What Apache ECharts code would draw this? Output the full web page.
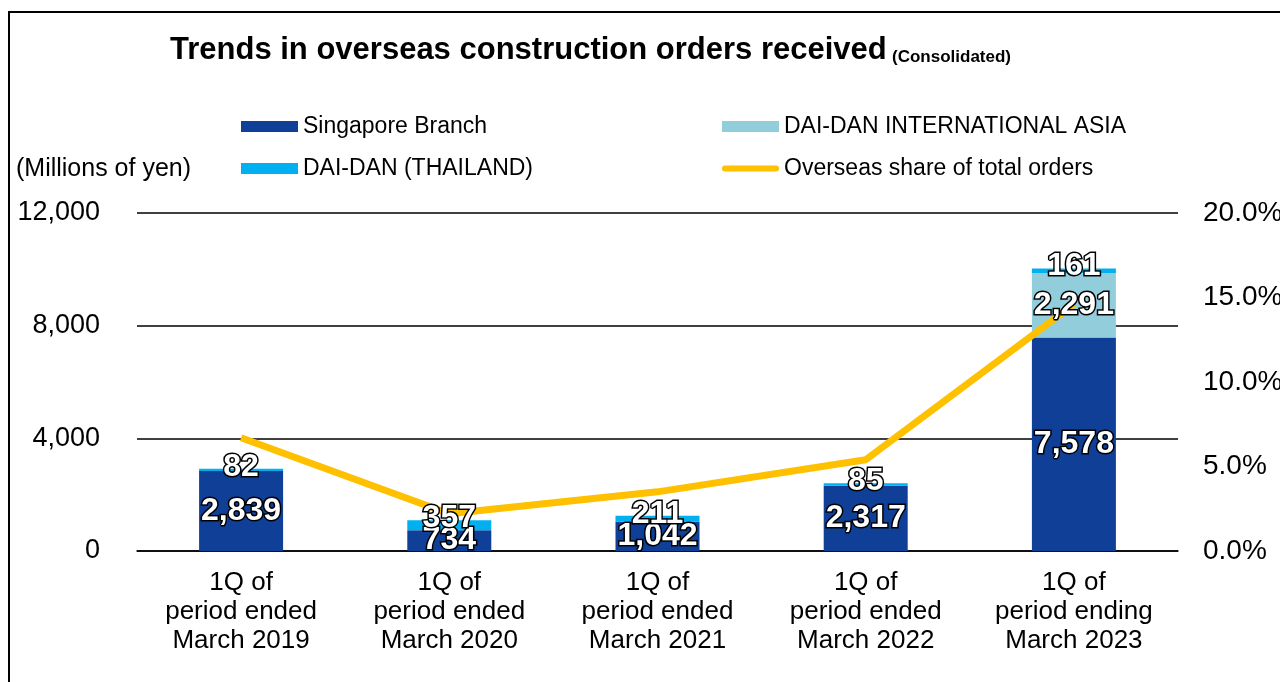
<!DOCTYPE html>
<html>
<head>
<meta charset="utf-8">
<title>Trends in overseas construction orders received</title>
<script src="https://cdn.jsdelivr.net/npm/echarts@6/dist/echarts.min.js"></script>
<style>
  html, body { margin: 0; padding: 0; background: #fff; }
  #main { width: 1280px; height: 682px; }
</style>
</head>
<body>
<div id="main"></div>
<script>
// data
var categories = [
  "1Q of\nperiod ended\nMarch 2019",
  "1Q of\nperiod ended\nMarch 2020",
  "1Q of\nperiod ended\nMarch 2021",
  "1Q of\nperiod ended\nMarch 2022",
  "1Q of\nperiod ending\nMarch 2023"
];
var singapore = [2839, 734, 1042, 2317, 7578];
var intlAsia = [0, 0, 0, 0, 2291];
var thailand = [82, 357, 211, 85, 161];
var overseasShare = [6.7, 2.2, 3.5, 5.4, 14.6]; // %

var FONT = "'Liberation Sans', Arial, sans-serif";
var colors = ["#0F3F97", "#92CDDC", "#00B0F0", "#FFC000"];

var myChart = echarts.init(document.getElementById("main"));

var barLabel = {
  show: true,
  position: "inside",
  color: "#fff",
  fontFamily: FONT,
  fontWeight: "bold",
  fontSize: 32,
  textBorderColor: "#000",
  textBorderWidth: 3,
  formatter: function (p) {
    return p.value ? p.value.toLocaleString("en-US") : "";
  }
};

// coloured bars, no labels
function barSeries(name, data, color) {
  return {
    name: name, type: "bar", stack: "orders", barWidth: 84, barGap: "-100%",
    z: 2, itemStyle: { color: color }, data: data
  };
}
// same stack again, invisible, only to draw the labels above the line
function labelSeries(name, data, label) {
  return {
    name: name, type: "bar", stack: "labels", barWidth: 84, barGap: "-100%",
    z: 4, silent: true, itemStyle: { color: "rgba(0,0,0,0)" }, data: data, label: label
  };
}

var lineIcon = "path://M3,0 L54,0 A3,3 0 0 1 54,6 L3,6 A3,3 0 0 1 3,0 Z";

var option = {
  animation: false,
  color: colors,
  textStyle: { fontFamily: FONT, color: "#000" },
  title: [
    {
      text: "Trends in overseas construction orders received",
      left: 165, top: 30,
      textStyle: { fontFamily: FONT, fontSize: 31, fontWeight: "bold", color: "#000" }
    },
    {
      text: "(Consolidated)",
      left: 887, top: 44,
      textStyle: { fontFamily: FONT, fontSize: 17, fontWeight: "bold", color: "#000" }
    },
    {
      text: "(Millions of yen)",
      left: 11, top: 152,
      textStyle: { fontFamily: FONT, fontSize: 25, fontWeight: "normal", color: "#000" }
    }
  ],
  legend: [
    {
      orient: "vertical",
      left: 241, top: 115, padding: 0,
      itemWidth: 57, itemHeight: 11, itemGap: 19,
      textStyle: { fontFamily: FONT, fontSize: 23, color: "#000" },
      data: [
        { name: "Singapore Branch", icon: "rect" },
        { name: "DAI-DAN (THAILAND)", icon: "rect" }
      ]
    },
    {
      orient: "vertical",
      left: 722, top: 115, padding: 0,
      itemWidth: 57, itemHeight: 11, itemGap: 19,
      textStyle: { fontFamily: FONT, fontSize: 23, color: "#000" },
      data: [
        { name: "DAI-DAN INTERNATIONAL ASIA", icon: "rect" },
        { name: "Overseas share of total orders", icon: lineIcon }
      ]
    }
  ],
  graphic: [
    {
      type: "rect",
      shape: { x: 9, y: 12, width: 1320, height: 720 },
      style: { fill: "none", stroke: "#000", lineWidth: 2 },
      silent: true
    }
  ],
  grid: { left: 137, right: 102, top: 213, bottom: 131, outerBoundsMode: "none" },
  xAxis: {
    type: "category",
    data: categories,
    axisLine: { lineStyle: { color: "#000", width: 1.5 } },
    axisTick: { show: false },
    axisLabel: {
      color: "#000", fontFamily: FONT, fontSize: 26, lineHeight: 29,
      margin: 17, interval: 0
    }
  },
  yAxis: [
    {
      type: "value",
      min: 0, max: 12000, interval: 4000,
      axisLine: { show: false },
      axisTick: { show: false },
      splitLine: { lineStyle: { color: "#000", width: 1.5 } },
      axisLabel: {
        color: "#000", fontFamily: FONT, fontSize: 27, margin: 37,
        formatter: function (v) { return v.toLocaleString("en-US"); }
      }
    },
    {
      type: "value",
      min: 0, max: 20, interval: 5,
      axisLine: { show: false },
      axisTick: { show: false },
      splitLine: { show: false },
      axisLabel: {
        color: "#000", fontFamily: FONT, fontSize: 28, margin: 25,
        formatter: function (v) { return v.toFixed(1) + "%"; }
      }
    }
  ],
  series: [
    barSeries("Singapore Branch", singapore, colors[0]),
    barSeries("DAI-DAN INTERNATIONAL ASIA", intlAsia, colors[1]),
    barSeries("DAI-DAN (THAILAND)", thailand, colors[2]),
    {
      name: "Overseas share of total orders",
      type: "line",
      yAxisIndex: 1,
      z: 3,
      data: overseasShare,
      symbol: "none",
      itemStyle: { color: colors[3] },
      lineStyle: { color: colors[3], width: 7 }
    },
    labelSeries("label-singapore", singapore, barLabel),
    labelSeries("label-intlasia", intlAsia, barLabel),
    labelSeries("label-thailand", thailand,
      Object.assign({}, barLabel, { position: "top", distance: -14 }))
  ]
};

myChart.setOption(option);
</script>
</body>
</html>
